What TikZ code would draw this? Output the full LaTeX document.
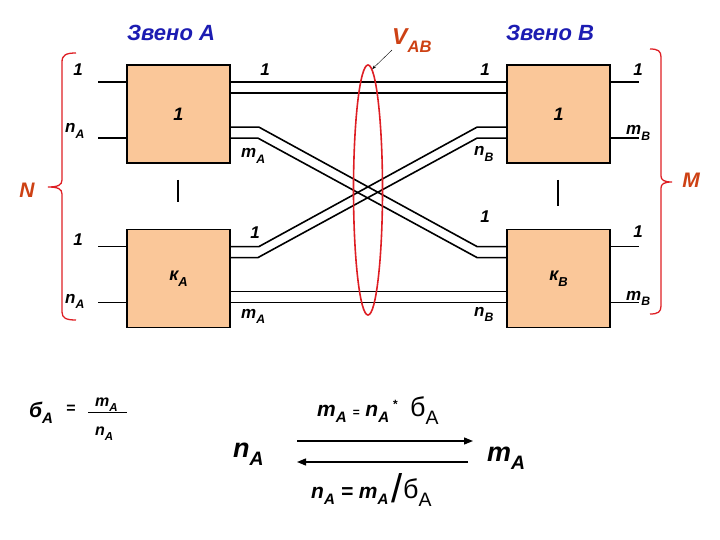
\documentclass[tikz,border=0pt]{standalone}
\usepackage{fontspec}
\setmainfont{Liberation Sans}
\usetikzlibrary{arrows.meta, positioning, shapes.geometric}

\definecolor{boxfill}{RGB}{250,199,153}
\definecolor{titleblue}{RGB}{28,28,178}
\definecolor{ovalred}{RGB}{222,30,36}
\definecolor{labelred}{RGB}{205,65,20}

\newcommand{\lbl}[1]{\fontsize{#1}{#1}\selectfont\bfseries\itshape}
\newcommand{\ix}[1]{\raisebox{-0.32em}{\scalebox{0.72}{#1}}}

\begin{document}
\begin{tikzpicture}[x=1pt, y=-1pt]
  \useasboundingbox (0,0) rectangle (720,540);

  % Define styles for blocks, wires and labels
  \tikzstyle{block}=[draw, line width=1.8pt, fill=boxfill, minimum width=103pt, minimum height=98pt, inner sep=0pt, font=\lbl{18}]
  \tikzstyle{wire}=[line width=1.6pt]
  \tikzstyle{tag}=[inner sep=0pt, font=\lbl{17}]

  % Blocks of link A and link B
  \node[block] (a1) at (178.5,114) {1};
  \node[block] (ak) at (178.5,278.5) {к\ix{A}};
  \node[block] (b1) at (558.5,114) {1};
  \node[block] (bk) at (558.5,278.5) {к\ix{B}};

  % Inputs of link A
  \draw[wire] ([yshift=-18pt]a1.north west) -- +(-28,0);
  \draw[wire] ([yshift=-74pt]a1.north west) -- +(-28,0);
  \draw[wire] ([yshift=-18pt]ak.north west) -- +(-28,0);
  \draw[wire] ([yshift=-74pt]ak.north west) -- +(-28,0);

  % Outputs of link B
  \draw[wire] ([yshift=-18pt]b1.north east) -- +(28,0);
  \draw[wire] ([yshift=-74pt]b1.north east) -- +(28,0);
  \draw[wire] ([yshift=-18pt]bk.north east) -- +(28,0);
  \draw[wire] ([yshift=-74pt]bk.north east) -- +(28,0);

  % Straight bundles
  \draw[wire] ([yshift=-18pt]a1.north east) -- ([yshift=-18pt]b1.north west);
  \draw[wire] ([yshift=-29pt]a1.north east) -- ([yshift=-29pt]b1.north west);
  \draw[wire] ([yshift=-63pt]ak.north east) -- ([yshift=-63pt]bk.north west);
  \draw[wire] ([yshift=-74pt]ak.north east) -- ([yshift=-74pt]bk.north west);

  % Crossed bundles
  \draw[wire] ([yshift=-63pt]a1.north east) -- +(28,0) -- ([xshift=-29pt,yshift=-18pt]bk.north west) -- ([yshift=-18pt]bk.north west);
  \draw[wire] ([yshift=-74pt]a1.north east) -- +(27,0) -- ([xshift=-29pt,yshift=-29pt]bk.north west) -- ([yshift=-29pt]bk.north west);
  \draw[wire] ([yshift=-18pt]ak.north east) -- +(28,0) -- ([xshift=-29pt,yshift=-63pt]b1.north west) -- ([yshift=-63pt]b1.north west);
  \draw[wire] ([yshift=-29pt]ak.north east) -- +(27,0) -- ([xshift=-29pt,yshift=-74pt]b1.north west) -- ([yshift=-74pt]b1.north west);

  % Separators
  \draw[line width=2.5pt] (178,180) -- (178,202);
  \draw[line width=2.5pt] (558,180) -- (558,206);

  % Wire labels
  \node[tag] (la1) at (78,70) {1};
  \node[tag, anchor=base west] (lna1) at (65,133) {n\ix{A}};
  \node[tag] (la2) at (78,240) {1};
  \node[tag, anchor=base west] (lna2) at (65,303) {n\ix{A}};
  \node[tag] (la3) at (265,70) {1};
  \node[tag, anchor=base west] (lma1) at (241,158) {m\ix{A}};
  \node[tag] (la4) at (255,233) {1};
  \node[tag, anchor=base west] (lma2) at (241,318) {m\ix{A}};
  \node[tag] (lb1) at (485,70) {1};
  \node[tag, anchor=base west] (lnb1) at (474,156) {n\ix{B}};
  \node[tag] (lb2) at (485,217) {1};
  \node[tag, anchor=base west] (lnb2) at (474,316) {n\ix{B}};
  \node[tag] (lb3) at (638,70) {1};
  \node[tag, anchor=base west] (lmb1) at (626,135) {m\ix{B}};
  \node[tag] (lb4) at (638,232) {1};
  \node[tag, anchor=base west] (lmb2) at (626,300) {m\ix{B}};

  % Titles
  \node[font=\lbl{22}, text=titleblue] (zvA) at (171,33) {Звено А};
  \node[font=\lbl{22}, text=titleblue] (zvB) at (550,33) {Звено В};

  % Channel bundle V_AB
  \node[draw=ovalred, line width=1.6pt, ellipse, minimum width=29pt, minimum height=250pt, inner sep=0pt] (bundle) at (368,190) {};
  \node[inner sep=0pt, anchor=base west, font=\lbl{23}, text=labelred] (vab) at (392,45) {V\ix{AB}};
  \draw[-{Stealth[length=4pt]}] (vab.205) -- (bundle.88);

  % Braces N and M
  \draw[ovalred, line width=1.3pt] (76,53) .. controls (66,53) and (62,55) .. (62,62) -- (62,180) .. controls (62,185) and (58,187) .. (48,187) .. controls (58,187) and (62,189) .. (62,194) -- (62,312) .. controls (62,318) and (66,320) .. (76,320);
  \draw[ovalred, line width=1.3pt] (650,49) .. controls (658,49) and (661,51) .. (661,57) -- (661,176) .. controls (661,180) and (664,182) .. (672,182) .. controls (664,182) and (661,184) .. (661,188) -- (661,306) .. controls (661,312) and (658,314) .. (650,314);
  \node[font=\lbl{21}, text=labelred] (nN) at (27,190) {N};
  \node[font=\lbl{21}, text=labelred] (nM) at (691,180) {M};

  % Ratio of link A
  \node[inner sep=0pt, anchor=base west, font=\lbl{21}] (sgA) at (29,417) {б\ix{A}};
  \node[inner sep=0pt, font=\fontsize{16}{16}\selectfont\bfseries] (eqA) at (71,409) {=};
  \node[tag, anchor=base west, font=\lbl{16}] (frm) at (95,406) {m\ix{A}};
  \node[tag, anchor=base west, font=\lbl{16}] (frn) at (95,435) {n\ix{A}};
  \draw[line width=1pt] (88,412) -- (127,412);

  % Conversion between n_A and m_A
  \node[inner sep=0pt, anchor=base west, font=\lbl{27}] (bigN) at (233,457) {n\ix{A}};
  \node[inner sep=0pt, anchor=base west, font=\lbl{27}] (bigM) at (487,461) {m\ix{A}};
  \coordinate (fwdS) at (297,441);
  \coordinate (fwdE) at (473,441);
  \coordinate (bckS) at (468,462);
  \coordinate (bckE) at (297,462);
  \draw[line width=1.3pt, -{Triangle[length=9pt, width=7pt]}] (fwdS) -- (fwdE);
  \draw[line width=1.3pt, -{Triangle[length=9pt, width=7pt]}] (bckS) -- (bckE);
  \node[inner sep=0pt, anchor=base west, font=\lbl{21}] (fwdL) at (317,416)
    {m\ix{A} {\fontsize{12}{12}\selectfont =} n\ix{A}\,\raisebox{0.35em}{\fontsize{12}{12}\selectfont *}\,\, {\fontsize{27}{27}\selectfont\mdseries\upshape б\ix{A}}};
  \node[inner sep=0pt, anchor=base west, font=\lbl{21}] (bckL) at (311,498)
    {n\ix{A} = m\ix{A}\,\raisebox{-0.22em}{\fontsize{40}{40}\selectfont\mdseries\upshape /}{\fontsize{27}{27}\selectfont\mdseries\upshape б\ix{A}}};
\end{tikzpicture}
\end{document}
